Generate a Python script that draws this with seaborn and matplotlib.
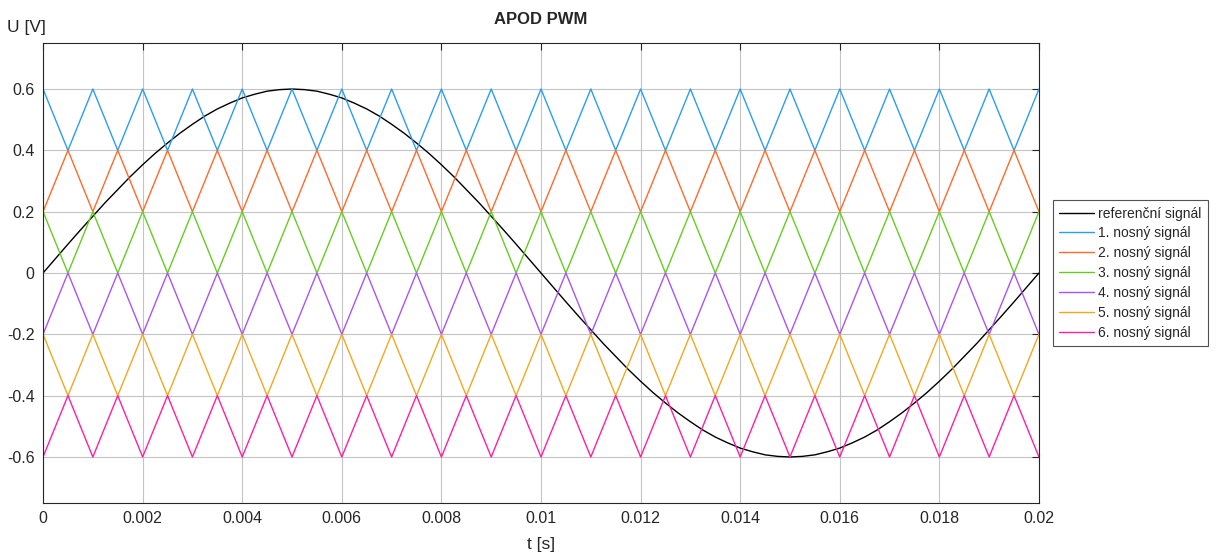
import matplotlib
matplotlib.use("Agg")
import matplotlib.pyplot as plt
import seaborn as sns

# time of carrier vertices [s]
t = [0.0, 0.0005, 0.001, 0.0015, 0.002, 0.0025, 0.003, 0.0035, 0.004, 0.0045,
     0.005, 0.0055, 0.006, 0.0065, 0.007, 0.0075, 0.008, 0.0085, 0.009, 0.0095,
     0.01, 0.0105, 0.011, 0.0115, 0.012, 0.0125, 0.013, 0.0135, 0.014, 0.0145,
     0.015, 0.0155, 0.016, 0.0165, 0.017, 0.0175, 0.018, 0.0185, 0.019, 0.0195,
     0.02]

# reference signal samples [s], [V]
t_ref = [0.0, 0.00025, 0.0005, 0.00075, 0.001, 0.00125, 0.0015, 0.00175, 0.002, 0.00225,
         0.0025, 0.00275, 0.003, 0.00325, 0.0035, 0.00375, 0.004, 0.00425, 0.0045, 0.00475,
         0.005, 0.00525, 0.0055, 0.00575, 0.006, 0.00625, 0.0065, 0.00675, 0.007, 0.00725,
         0.0075, 0.00775, 0.008, 0.00825, 0.0085, 0.00875, 0.009, 0.00925, 0.0095, 0.00975,
         0.01, 0.01025, 0.0105, 0.01075, 0.011, 0.01125, 0.0115, 0.01175, 0.012, 0.01225,
         0.0125, 0.01275, 0.013, 0.01325, 0.0135, 0.01375, 0.014, 0.01425, 0.0145, 0.01475,
         0.015, 0.01525, 0.0155, 0.01575, 0.016, 0.01625, 0.0165, 0.01675, 0.017, 0.01725,
         0.0175, 0.01775, 0.018, 0.01825, 0.0185, 0.01875, 0.019, 0.01925, 0.0195, 0.01975,
         0.02]
ref = [0.0, 0.047, 0.094, 0.140, 0.185, 0.230, 0.272, 0.314, 0.353, 0.390,
       0.424, 0.456, 0.485, 0.512, 0.535, 0.554, 0.571, 0.583, 0.593, 0.598,
       0.6, 0.598, 0.593, 0.583, 0.571, 0.554, 0.535, 0.512, 0.485, 0.456,
       0.424, 0.390, 0.353, 0.314, 0.272, 0.230, 0.185, 0.140, 0.094, 0.047,
       0.0, -0.047, -0.094, -0.140, -0.185, -0.230, -0.272, -0.314, -0.353, -0.390,
       -0.424, -0.456, -0.485, -0.512, -0.535, -0.554, -0.571, -0.583, -0.593, -0.598,
       -0.6, -0.598, -0.593, -0.583, -0.571, -0.554, -0.535, -0.512, -0.485, -0.456,
       -0.424, -0.390, -0.353, -0.314, -0.272, -0.230, -0.185, -0.140, -0.094, -0.047,
       0.0]

# carrier vertices
c1 = [0.6, 0.4, 0.6, 0.4, 0.6, 0.4, 0.6, 0.4, 0.6, 0.4, 0.6, 0.4, 0.6, 0.4,
      0.6, 0.4, 0.6, 0.4, 0.6, 0.4, 0.6, 0.4, 0.6, 0.4, 0.6, 0.4, 0.6, 0.4,
      0.6, 0.4, 0.6, 0.4, 0.6, 0.4, 0.6, 0.4, 0.6, 0.4, 0.6, 0.4, 0.6]
c2 = [0.2, 0.4, 0.2, 0.4, 0.2, 0.4, 0.2, 0.4, 0.2, 0.4, 0.2, 0.4, 0.2, 0.4,
      0.2, 0.4, 0.2, 0.4, 0.2, 0.4, 0.2, 0.4, 0.2, 0.4, 0.2, 0.4, 0.2, 0.4,
      0.2, 0.4, 0.2, 0.4, 0.2, 0.4, 0.2, 0.4, 0.2, 0.4, 0.2, 0.4, 0.2]
c3 = [0.2, 0.0, 0.2, 0.0, 0.2, 0.0, 0.2, 0.0, 0.2, 0.0, 0.2, 0.0, 0.2, 0.0,
      0.2, 0.0, 0.2, 0.0, 0.2, 0.0, 0.2, 0.0, 0.2, 0.0, 0.2, 0.0, 0.2, 0.0,
      0.2, 0.0, 0.2, 0.0, 0.2, 0.0, 0.2, 0.0, 0.2, 0.0, 0.2, 0.0, 0.2]
c4 = [-0.2, 0.0, -0.2, 0.0, -0.2, 0.0, -0.2, 0.0, -0.2, 0.0, -0.2, 0.0, -0.2, 0.0,
      -0.2, 0.0, -0.2, 0.0, -0.2, 0.0, -0.2, 0.0, -0.2, 0.0, -0.2, 0.0, -0.2, 0.0,
      -0.2, 0.0, -0.2, 0.0, -0.2, 0.0, -0.2, 0.0, -0.2, 0.0, -0.2, 0.0, -0.2]
c5 = [-0.2, -0.4, -0.2, -0.4, -0.2, -0.4, -0.2, -0.4, -0.2, -0.4, -0.2, -0.4, -0.2, -0.4,
      -0.2, -0.4, -0.2, -0.4, -0.2, -0.4, -0.2, -0.4, -0.2, -0.4, -0.2, -0.4, -0.2, -0.4,
      -0.2, -0.4, -0.2, -0.4, -0.2, -0.4, -0.2, -0.4, -0.2, -0.4, -0.2, -0.4, -0.2]
c6 = [-0.6, -0.4, -0.6, -0.4, -0.6, -0.4, -0.6, -0.4, -0.6, -0.4, -0.6, -0.4, -0.6, -0.4,
      -0.6, -0.4, -0.6, -0.4, -0.6, -0.4, -0.6, -0.4, -0.6, -0.4, -0.6, -0.4, -0.6, -0.4,
      -0.6, -0.4, -0.6, -0.4, -0.6, -0.4, -0.6, -0.4, -0.6, -0.4, -0.6, -0.4, -0.6]

labels = ["referenční signál", "1. nosný signál", "2. nosný signál", "3. nosný signál",
          "4. nosný signál", "5. nosný signál", "6. nosný signál"]
colors = ["#000000", "#2A9DF4", "#FF6A2A", "#66CC22", "#A855F7", "#F0A820", "#FF1FA0"]

xticks = [0, 0.002, 0.004, 0.006, 0.008, 0.01, 0.012, 0.014, 0.016, 0.018, 0.02]
xticklabels = ["0", "0.002", "0.004", "0.006", "0.008", "0.01", "0.012", "0.014",
               "0.016", "0.018", "0.02"]
yticks = [-0.6, -0.4, -0.2, 0, 0.2, 0.4, 0.6]
yticklabels = ["-0.6", "-0.4", "-0.2", "0", "0.2", "0.4", "0.6"]

sns.set_style("whitegrid")
plt.rcParams['font.family'] = ['Liberation Sans', 'DejaVu Sans']

fig = plt.figure(figsize=(12.16, 5.58), dpi=100)
ax = fig.add_axes([0.0354, 0.0986, 0.8190, 0.8243])

xs = [t_ref, t, t, t, t, t, t]
series = [ref, c1, c2, c3, c4, c5, c6]
for x, vals, lab, col in zip(xs, series, labels, colors):
    sns.lineplot(x=x, y=vals, color=col, label=lab, ax=ax, sort=False,
                 estimator=None, linewidth=1.0)

ax.set_xlim(0, 0.02)
ax.set_ylim(-0.75, 0.75)
ax.set_xticks(xticks)
ax.set_xticklabels(xticklabels)
ax.set_yticks(yticks)
ax.set_yticklabels(yticklabels)
ax.tick_params(direction="in", length=5, labelsize=11.5, colors="#262626",
               top=True, right=True, pad=6)
ax.grid(True, color="#c4c4c4", linewidth=0.8)
for s in ax.spines.values():
    s.set_color("#262626")
    s.set_linewidth(0.8)

ax.set_title("APOD PWM", fontsize=12, fontweight="bold", pad=14)
ax.set_xlabel("t [s]", fontsize=12.5, color="#262626", labelpad=8)
fig.text(0.022, 0.95, "U [V]", fontsize=12.5, color="#262626", ha="center", va="center")

leg = ax.legend(loc="center left", bbox_to_anchor=(1.014, 0.5), fontsize=10,
                frameon=True, fancybox=False, edgecolor="#262626", handlelength=2.5,
                borderpad=0.45, labelspacing=0.42, handletextpad=0.3, borderaxespad=0)
leg.get_frame().set_linewidth(0.8)

fig.savefig("out.png", dpi=100)
